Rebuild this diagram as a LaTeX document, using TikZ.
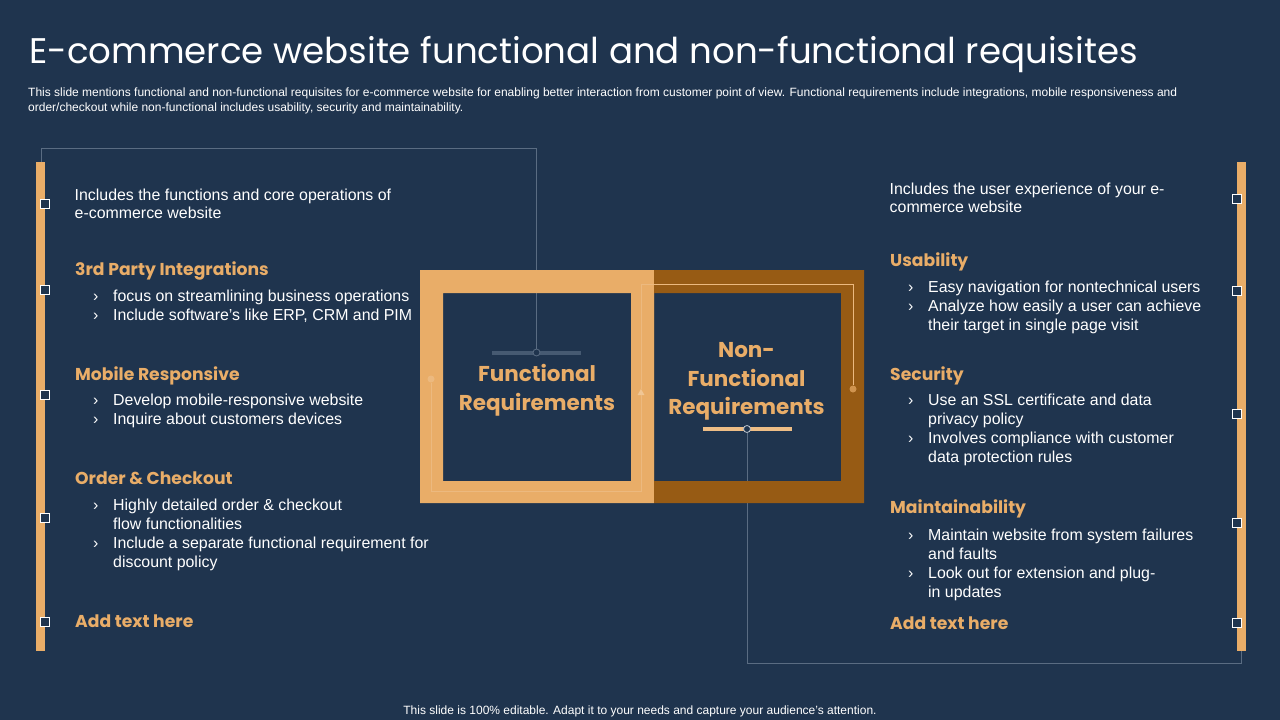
\documentclass[tikz,border=0pt]{standalone}
\usepackage{fontspec}
\usetikzlibrary{shapes.geometric}
\setmainfont{Liberation Sans}
\newfontfamily\headfont{Poppins}
\definecolor{slide}{HTML}{1F344E}
\definecolor{tan}{HTML}{E9AD68}
\definecolor{brown}{HTML}{975B14}
\definecolor{wire}{HTML}{5A6C82}
\definecolor{dimbar}{HTML}{465A72}
\tikzset{
  line/.style={font=\fontsize{15.9}{19}\selectfont,text=white,anchor=base west,inner sep=0pt,yshift=-5.5pt},
  head/.style={anchor=base west,inner sep=0pt,yshift=-6pt,text=tan,font=\headfont\bfseries\fontsize{17.2}{22}\selectfont},
  mark box/.style={draw=white,fill=slide,line width=1.2pt,minimum size=8.5pt,inner sep=0pt},
  wire/.style={draw=wire,line width=.8pt},
  lightwire/.style={draw=tan!85!white,line width=.8pt},
  big/.style={align=center,text=tan,inner sep=0pt,font=\headfont\bfseries\fontsize{21.5}{28.5}\selectfont}
}
\begin{document}
\begin{tikzpicture}[x=1pt,y=-1pt]
  \fill[slide] (0,0) rectangle (1280,720);
  \useasboundingbox (0,0) rectangle (1280,720);

  \node[anchor=west,inner sep=0pt,text=white,font=\headfont\fontsize{35.6}{40}\selectfont] (title) at (29,54.5) {E-commerce website functional and non-functional requisites};
  \node[anchor=north west,align=left,inner sep=0pt,text=white,font=\fontsize{12}{14.6}\selectfont] (intro) at (28,88) {This slide mentions functional and non-functional requisites for e-commerce website for enabling better interaction from customer point of view.  Functional requirements include integrations, mobile responsiveness and\\order/checkout while non-functional includes usability, security and maintainability.};
  \node[inner sep=0pt,text=white,font=\fontsize{12}{14}\selectfont] (foot) at (640,711) {This slide is 100\% editable. Adapt it to your needs and capture your audience's attention.};

  % bars and end dots inside the boxes
  \fill[dimbar] (492,350.5) rectangle (581,354.5);
  \fill[tan!80!white] (703,427) rectangle (792,431);
  \node[circle,draw=wire,fill=slide,line width=.8pt,minimum size=7pt,inner sep=0pt] (cl) at (536.5,352.5) {};
  \node[circle,draw=wire!40!white,fill=slide,line width=.8pt,minimum size=7pt,inner sep=0pt] (cr) at (747,429) {};

  % wires from the side bars
  \coordinate (bl) at (41,162);
  \coordinate (bla) at (41,148.5);
  \coordinate (blb) at (536.5,148.5);
  \draw[wire] (bl) -- (bla) -- (blb) -- (cl);
  \coordinate (br) at (1241,651);
  \coordinate (bra) at (1241,663.5);
  \coordinate (brb) at (747,663.5);
  \draw[wire] (br) -- (bra) -- (brb) -- (cr);

  % center frames
  \fill[tan,even odd rule] (420,270) rectangle (654,503) (443,293) rectangle (631,481);
  \fill[brown,even odd rule] (654,270) rectangle (864,503) (654,293) rectangle (841,481);

  \node[circle,minimum size=7pt,inner sep=0pt,fill=tan!85!white] (dotl) at (431,379) {};
  \node[regular polygon,regular polygon sides=3,minimum size=8pt,inner sep=0pt,fill=tan!70!white] (tri) at (641,393) {};
  \node[circle,minimum size=7pt,inner sep=0pt,fill=tan!70!brown] (dotr) at (853,389) {};
  \coordinate (c1) at (431,491);
  \coordinate (c2) at (641,491);
  \coordinate (c3) at (641,284);
  \coordinate (c4) at (853,284);
  \draw[lightwire] (dotl) -- (c1) -- (c2) -- (tri) -- (c3) -- (c4) -- (dotr);

  \node[big] (fn) at (537,390) {Functional\\Requirements};
  \node[big] (nf) at (746.5,381.5) {Non-\\Functional\\Requirements};

  % side bars
  \fill[tan] (36,162) rectangle (45,651);
  \fill[tan] (1237,162) rectangle (1246,651);

  \foreach \n/\y in {1/204, 2/290, 3/395, 4/518, 5/622}
    \node[mark box] (ml\n) at (45,\y) {};
  \foreach \n/\y in {1/199, 2/291, 3/414, 4/523, 5/623}
    \node[mark box] (mr\n) at (1237,\y) {};

  % left column
  \foreach \y/\t in {195/Includes the functions and core operations of, 213/e-commerce website}
    \node[line] at (74.5,\y) {\t};
  \foreach \y/\t in {269/3rd Party Integrations, 374/Mobile Responsive, 478/Order \& Checkout, 621/Add text here}
    \node[head] at (75,\y) {\t};
  \foreach \y in {296, 315, 400, 419, 505, 543}
    \node[line] at (93,\y) {›};
  \foreach \y/\t in {296/focus on streamlining business operations,
                     315/{Include software's like ERP, CRM and PIM},
                     400/Develop mobile-responsive website,
                     419/Inquire about customers devices,
                     505/Highly detailed order \& checkout,
                     524/flow functionalities,
                     543/Include a separate functional requirement for,
                     562/discount policy}
    \node[line] at (113,\y) {\t};

  % right column
  \foreach \y/\t in {189/Includes the user experience of your e-, 207/commerce website}
    \node[line] at (889.5,\y) {\t};
  \foreach \y/\t in {260/Usability, 374/Security, 507/Maintainability, 623/Add text here}
    \node[head] at (890,\y) {\t};
  \foreach \y in {287, 306, 400, 438, 535, 573}
    \node[line] at (908,\y) {›};
  \foreach \y/\t in {287/Easy navigation for nontechnical users,
                     306/Analyze how easily a user can achieve,
                     325/their target in single page visit,
                     400/Use an SSL certificate and data,
                     419/privacy policy,
                     438/Involves compliance with customer,
                     457/data protection rules,
                     535/Maintain website from system failures,
                     554/and faults,
                     573/Look out for extension and plug-,
                     592/in updates}
    \node[line] at (928,\y) {\t};
\end{tikzpicture}
\end{document}
